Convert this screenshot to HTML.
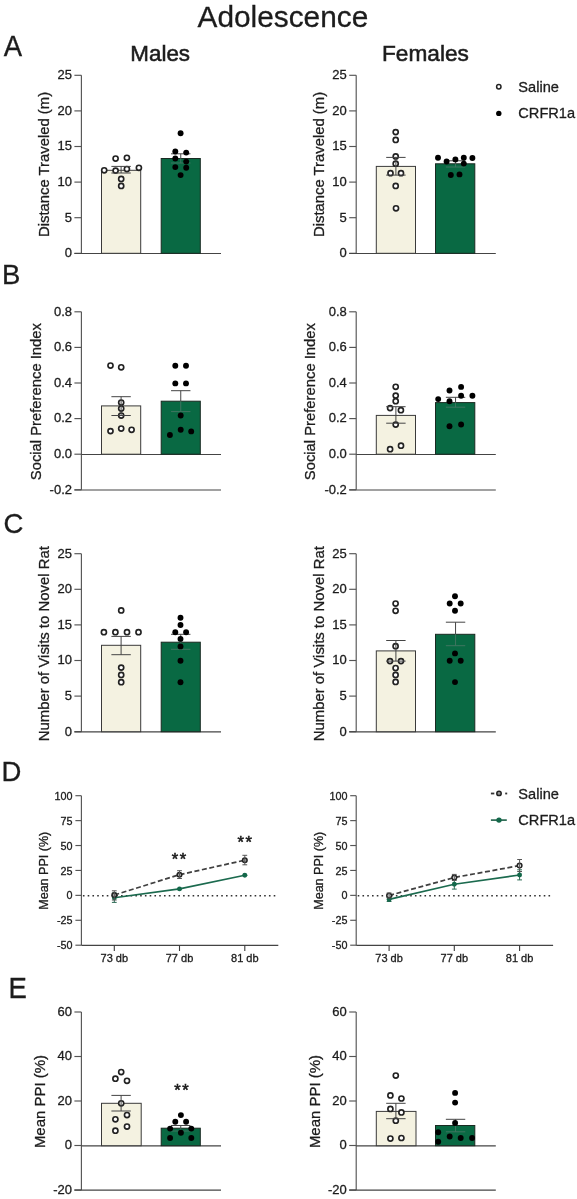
<!DOCTYPE html>
<html><head><meta charset="utf-8"><style>
html,body{margin:0;padding:0;background:#fff;width:577px;height:1199px;overflow:hidden}
svg{display:block;font-family:"Liberation Sans", sans-serif;filter:blur(0.4px)}
</style></head><body>
<svg width="577" height="1199" viewBox="0 0 577 1199">
<rect width="577" height="1199" fill="#fff"/>
<text x="197.60" y="27.30" font-size="29.8" text-anchor="start" fill="#1c1c1c" stroke="#1c1c1c" stroke-width="0.3" >Adolescence</text>
<text x="130.30" y="61.40" font-size="22.4" text-anchor="start" fill="#1c1c1c" stroke="#1c1c1c" stroke-width="0.55" >Males</text>
<text x="382.00" y="61.30" font-size="22.4" text-anchor="start" fill="#1c1c1c" stroke="#1c1c1c" stroke-width="0.55" textLength="86.9" lengthAdjust="spacingAndGlyphs">Females</text>
<g transform="translate(3.8,56.2) scale(1,1.08)">
<text x="0.00" y="0.00" font-size="27.5" text-anchor="start" fill="#1c1c1c" stroke="#1c1c1c" stroke-width="0.3" >A</text>
</g>
<g transform="translate(2.0,283.5) scale(1,1.0)">
<text x="0.00" y="0.00" font-size="27.5" text-anchor="start" fill="#1c1c1c" stroke="#1c1c1c" stroke-width="0.3" >B</text>
</g>
<g transform="translate(3.4,532.7) scale(1,1.0)">
<text x="0.00" y="0.00" font-size="27.5" text-anchor="start" fill="#1c1c1c" stroke="#1c1c1c" stroke-width="0.3" >C</text>
</g>
<g transform="translate(1.5,780.5) scale(1,1.0)">
<text x="0.00" y="0.00" font-size="27.5" text-anchor="start" fill="#1c1c1c" stroke="#1c1c1c" stroke-width="0.3" >D</text>
</g>
<g transform="translate(8.6,998.3) scale(1,1.06)">
<text x="0.00" y="0.00" font-size="27.5" text-anchor="start" fill="#1c1c1c" stroke="#1c1c1c" stroke-width="0.3" >E</text>
</g>
<circle cx="498.80" cy="86.80" r="2.2" fill="#fff" stroke="#222" stroke-width="1.5"/>
<circle cx="498.80" cy="113.40" r="2.7" fill="#000"/>
<text x="518.30" y="91.80" font-size="14.6" text-anchor="start" fill="#1c1c1c" stroke="#1c1c1c" stroke-width="0.3" >Saline</text>
<text x="518.30" y="117.90" font-size="14.6" text-anchor="start" fill="#1c1c1c" stroke="#1c1c1c" stroke-width="0.3" >CRFR1a</text>
<line x1="81.40" y1="75.30" x2="81.40" y2="253.30" stroke="#555" stroke-width="1.15" />
<line x1="74.40" y1="75.30" x2="81.40" y2="75.30" stroke="#555" stroke-width="1.15" />
<text x="72.00" y="79.15" font-size="13" text-anchor="end" fill="#1c1c1c" stroke="#1c1c1c" stroke-width="0.3" >25</text>
<line x1="74.40" y1="110.90" x2="81.40" y2="110.90" stroke="#555" stroke-width="1.15" />
<text x="72.00" y="114.75" font-size="13" text-anchor="end" fill="#1c1c1c" stroke="#1c1c1c" stroke-width="0.3" >20</text>
<line x1="74.40" y1="146.50" x2="81.40" y2="146.50" stroke="#555" stroke-width="1.15" />
<text x="72.00" y="150.35" font-size="13" text-anchor="end" fill="#1c1c1c" stroke="#1c1c1c" stroke-width="0.3" >15</text>
<line x1="74.40" y1="182.10" x2="81.40" y2="182.10" stroke="#555" stroke-width="1.15" />
<text x="72.00" y="185.95" font-size="13" text-anchor="end" fill="#1c1c1c" stroke="#1c1c1c" stroke-width="0.3" >10</text>
<line x1="74.40" y1="217.70" x2="81.40" y2="217.70" stroke="#555" stroke-width="1.15" />
<text x="72.00" y="221.55" font-size="13" text-anchor="end" fill="#1c1c1c" stroke="#1c1c1c" stroke-width="0.3" >5</text>
<line x1="74.40" y1="253.30" x2="81.40" y2="253.30" stroke="#555" stroke-width="1.15" />
<text x="72.00" y="257.15" font-size="13" text-anchor="end" fill="#1c1c1c" stroke="#1c1c1c" stroke-width="0.3" >0</text>
<line x1="74.40" y1="253.50" x2="221.00" y2="253.50" stroke="#444" stroke-width="1.2" />
<text transform="translate(48.70,237.00) rotate(-90)" font-size="15" text-anchor="start" fill="#1c1c1c" stroke="#1c1c1c" stroke-width="0.3" textLength="145.1" lengthAdjust="spacingAndGlyphs">Distance Traveled (m)</text>
<rect x="101.50" y="170.30" width="39.20" height="83.00" fill="#f4f2e1" stroke="#3a3a3a" stroke-width="1.0"/>
<rect x="161.20" y="158.50" width="39.10" height="94.80" fill="#096943" stroke="#1a2a22" stroke-width="1.0"/>
<line x1="180.75" y1="153.80" x2="180.75" y2="158.50" stroke="#444" stroke-width="1.0" />
<line x1="171.05" y1="153.80" x2="190.45" y2="153.80" stroke="#444" stroke-width="1.0" />
<line x1="180.75" y1="158.50" x2="180.75" y2="163.00" stroke="#3f7560" stroke-width="1.0" />
<line x1="171.05" y1="163.00" x2="190.45" y2="163.00" stroke="#3f7560" stroke-width="1.0" />
<circle cx="115.60" cy="158.50" r="2.55" fill="#fff" stroke="#222" stroke-width="1.65"/>
<circle cx="126.90" cy="157.80" r="2.55" fill="#fff" stroke="#222" stroke-width="1.65"/>
<circle cx="104.20" cy="170.30" r="2.55" fill="#fff" stroke="#222" stroke-width="1.65"/>
<circle cx="115.60" cy="170.60" r="2.55" fill="#fff" stroke="#222" stroke-width="1.65"/>
<circle cx="126.90" cy="169.00" r="2.55" fill="#fff" stroke="#222" stroke-width="1.65"/>
<circle cx="138.90" cy="167.80" r="2.55" fill="#fff" stroke="#222" stroke-width="1.65"/>
<circle cx="121.20" cy="178.90" r="2.55" fill="#fff" stroke="#222" stroke-width="1.65"/>
<circle cx="121.20" cy="185.90" r="2.55" fill="#fff" stroke="#222" stroke-width="1.65"/>
<line x1="121.10" y1="166.40" x2="121.10" y2="173.00" stroke="#444" stroke-width="1.0" />
<line x1="111.40" y1="166.40" x2="130.80" y2="166.40" stroke="#444" stroke-width="1.0" />
<line x1="111.40" y1="173.00" x2="130.80" y2="173.00" stroke="#444" stroke-width="1.0" />
<circle cx="180.60" cy="133.30" r="2.95" fill="#000"/>
<circle cx="175.30" cy="151.50" r="2.95" fill="#000"/>
<circle cx="186.20" cy="152.60" r="2.95" fill="#000"/>
<circle cx="175.30" cy="158.50" r="2.95" fill="#000"/>
<circle cx="186.20" cy="161.60" r="2.95" fill="#000"/>
<circle cx="175.30" cy="167.10" r="2.95" fill="#000"/>
<circle cx="186.20" cy="167.70" r="2.95" fill="#000"/>
<circle cx="180.60" cy="175.10" r="2.95" fill="#000"/>
<line x1="356.20" y1="75.30" x2="356.20" y2="253.30" stroke="#555" stroke-width="1.15" />
<line x1="349.20" y1="75.30" x2="356.20" y2="75.30" stroke="#555" stroke-width="1.15" />
<text x="346.80" y="79.15" font-size="13" text-anchor="end" fill="#1c1c1c" stroke="#1c1c1c" stroke-width="0.3" >25</text>
<line x1="349.20" y1="110.90" x2="356.20" y2="110.90" stroke="#555" stroke-width="1.15" />
<text x="346.80" y="114.75" font-size="13" text-anchor="end" fill="#1c1c1c" stroke="#1c1c1c" stroke-width="0.3" >20</text>
<line x1="349.20" y1="146.50" x2="356.20" y2="146.50" stroke="#555" stroke-width="1.15" />
<text x="346.80" y="150.35" font-size="13" text-anchor="end" fill="#1c1c1c" stroke="#1c1c1c" stroke-width="0.3" >15</text>
<line x1="349.20" y1="182.10" x2="356.20" y2="182.10" stroke="#555" stroke-width="1.15" />
<text x="346.80" y="185.95" font-size="13" text-anchor="end" fill="#1c1c1c" stroke="#1c1c1c" stroke-width="0.3" >10</text>
<line x1="349.20" y1="217.70" x2="356.20" y2="217.70" stroke="#555" stroke-width="1.15" />
<text x="346.80" y="221.55" font-size="13" text-anchor="end" fill="#1c1c1c" stroke="#1c1c1c" stroke-width="0.3" >5</text>
<line x1="349.20" y1="253.30" x2="356.20" y2="253.30" stroke="#555" stroke-width="1.15" />
<text x="346.80" y="257.15" font-size="13" text-anchor="end" fill="#1c1c1c" stroke="#1c1c1c" stroke-width="0.3" >0</text>
<line x1="349.20" y1="253.50" x2="495.80" y2="253.50" stroke="#444" stroke-width="1.2" />
<text transform="translate(323.50,237.00) rotate(-90)" font-size="15" text-anchor="start" fill="#1c1c1c" stroke="#1c1c1c" stroke-width="0.3" textLength="145.1" lengthAdjust="spacingAndGlyphs">Distance Traveled (m)</text>
<rect x="376.30" y="166.40" width="39.20" height="86.90" fill="#f4f2e1" stroke="#3a3a3a" stroke-width="1.0"/>
<rect x="435.50" y="163.80" width="39.30" height="89.50" fill="#096943" stroke="#1a2a22" stroke-width="1.0"/>
<line x1="455.55" y1="160.80" x2="455.55" y2="163.80" stroke="#444" stroke-width="1.0" />
<line x1="445.85" y1="160.80" x2="465.25" y2="160.80" stroke="#444" stroke-width="1.0" />
<line x1="455.55" y1="163.80" x2="455.55" y2="167.00" stroke="#3f7560" stroke-width="1.0" />
<line x1="445.85" y1="167.00" x2="465.25" y2="167.00" stroke="#3f7560" stroke-width="1.0" />
<circle cx="395.70" cy="132.10" r="2.55" fill="#fff" stroke="#222" stroke-width="1.65"/>
<circle cx="395.70" cy="139.90" r="2.55" fill="#fff" stroke="#222" stroke-width="1.65"/>
<circle cx="395.70" cy="156.40" r="2.55" fill="#fff" stroke="#222" stroke-width="1.65"/>
<circle cx="395.70" cy="163.70" r="2.55" fill="#fff" stroke="#222" stroke-width="1.65"/>
<circle cx="390.50" cy="173.20" r="2.55" fill="#fff" stroke="#222" stroke-width="1.65"/>
<circle cx="401.00" cy="173.20" r="2.55" fill="#fff" stroke="#222" stroke-width="1.65"/>
<circle cx="395.70" cy="185.90" r="2.55" fill="#fff" stroke="#222" stroke-width="1.65"/>
<circle cx="396.00" cy="208.30" r="2.55" fill="#fff" stroke="#222" stroke-width="1.65"/>
<line x1="395.90" y1="157.40" x2="395.90" y2="175.10" stroke="#444" stroke-width="1.0" />
<line x1="386.20" y1="157.40" x2="405.60" y2="157.40" stroke="#444" stroke-width="1.0" />
<line x1="386.20" y1="175.10" x2="405.60" y2="175.10" stroke="#444" stroke-width="1.0" />
<circle cx="438.00" cy="157.80" r="2.95" fill="#000"/>
<circle cx="446.60" cy="161.50" r="2.95" fill="#000"/>
<circle cx="455.40" cy="159.40" r="2.95" fill="#000"/>
<circle cx="463.80" cy="157.80" r="2.95" fill="#000"/>
<circle cx="472.40" cy="158.00" r="2.95" fill="#000"/>
<circle cx="463.80" cy="163.60" r="2.95" fill="#000"/>
<circle cx="450.80" cy="175.00" r="2.95" fill="#000"/>
<circle cx="459.50" cy="174.40" r="2.95" fill="#000"/>
<line x1="81.40" y1="311.80" x2="81.40" y2="489.80" stroke="#555" stroke-width="1.15" />
<line x1="74.40" y1="311.80" x2="81.40" y2="311.80" stroke="#555" stroke-width="1.15" />
<text x="72.00" y="315.65" font-size="13" text-anchor="end" fill="#1c1c1c" stroke="#1c1c1c" stroke-width="0.3" >0.8</text>
<line x1="74.40" y1="347.40" x2="81.40" y2="347.40" stroke="#555" stroke-width="1.15" />
<text x="72.00" y="351.25" font-size="13" text-anchor="end" fill="#1c1c1c" stroke="#1c1c1c" stroke-width="0.3" >0.6</text>
<line x1="74.40" y1="383.00" x2="81.40" y2="383.00" stroke="#555" stroke-width="1.15" />
<text x="72.00" y="386.85" font-size="13" text-anchor="end" fill="#1c1c1c" stroke="#1c1c1c" stroke-width="0.3" >0.4</text>
<line x1="74.40" y1="418.60" x2="81.40" y2="418.60" stroke="#555" stroke-width="1.15" />
<text x="72.00" y="422.45" font-size="13" text-anchor="end" fill="#1c1c1c" stroke="#1c1c1c" stroke-width="0.3" >0.2</text>
<line x1="74.40" y1="454.20" x2="81.40" y2="454.20" stroke="#555" stroke-width="1.15" />
<text x="72.00" y="458.05" font-size="13" text-anchor="end" fill="#1c1c1c" stroke="#1c1c1c" stroke-width="0.3" >0.0</text>
<line x1="74.40" y1="489.80" x2="81.40" y2="489.80" stroke="#555" stroke-width="1.15" />
<text x="72.00" y="493.65" font-size="13" text-anchor="end" fill="#1c1c1c" stroke="#1c1c1c" stroke-width="0.3" >-0.2</text>
<line x1="74.40" y1="490.00" x2="221.00" y2="490.00" stroke="#444" stroke-width="1.2" />
<line x1="81.40" y1="454.50" x2="221.00" y2="454.50" stroke="#444" stroke-width="1.2" />
<text transform="translate(40.50,480.20) rotate(-90)" font-size="15" text-anchor="start" fill="#1c1c1c" stroke="#1c1c1c" stroke-width="0.3" textLength="157.15" lengthAdjust="spacingAndGlyphs">Social Preference Index</text>
<rect x="101.50" y="405.90" width="39.20" height="48.30" fill="#f4f2e1" stroke="#3a3a3a" stroke-width="1.0"/>
<rect x="161.20" y="401.20" width="39.10" height="53.00" fill="#096943" stroke="#1a2a22" stroke-width="1.0"/>
<line x1="180.75" y1="390.70" x2="180.75" y2="401.20" stroke="#444" stroke-width="1.0" />
<line x1="171.05" y1="390.70" x2="190.45" y2="390.70" stroke="#444" stroke-width="1.0" />
<line x1="180.75" y1="401.20" x2="180.75" y2="411.60" stroke="#3f7560" stroke-width="1.0" />
<line x1="171.05" y1="411.60" x2="190.45" y2="411.60" stroke="#3f7560" stroke-width="1.0" />
<circle cx="110.50" cy="365.50" r="2.55" fill="#fff" stroke="#222" stroke-width="1.65"/>
<circle cx="121.20" cy="367.30" r="2.55" fill="#fff" stroke="#222" stroke-width="1.65"/>
<circle cx="121.20" cy="402.50" r="2.55" fill="#fff" stroke="#222" stroke-width="1.65"/>
<circle cx="121.20" cy="408.50" r="2.55" fill="#fff" stroke="#222" stroke-width="1.65"/>
<circle cx="121.20" cy="415.50" r="2.55" fill="#fff" stroke="#222" stroke-width="1.65"/>
<circle cx="110.50" cy="431.10" r="2.55" fill="#fff" stroke="#222" stroke-width="1.65"/>
<circle cx="121.20" cy="428.50" r="2.55" fill="#fff" stroke="#222" stroke-width="1.65"/>
<circle cx="131.60" cy="429.80" r="2.55" fill="#fff" stroke="#222" stroke-width="1.65"/>
<line x1="121.10" y1="396.70" x2="121.10" y2="415.50" stroke="#444" stroke-width="1.0" />
<line x1="111.40" y1="396.70" x2="130.80" y2="396.70" stroke="#444" stroke-width="1.0" />
<line x1="111.40" y1="415.50" x2="130.80" y2="415.50" stroke="#444" stroke-width="1.0" />
<circle cx="175.30" cy="365.70" r="2.95" fill="#000"/>
<circle cx="186.00" cy="365.70" r="2.95" fill="#000"/>
<circle cx="175.30" cy="383.40" r="2.95" fill="#000"/>
<circle cx="186.00" cy="383.40" r="2.95" fill="#000"/>
<circle cx="180.70" cy="415.50" r="2.95" fill="#000"/>
<circle cx="180.70" cy="429.80" r="2.95" fill="#000"/>
<circle cx="169.90" cy="435.00" r="2.95" fill="#000"/>
<circle cx="191.20" cy="431.40" r="2.95" fill="#000"/>
<line x1="356.20" y1="311.80" x2="356.20" y2="489.80" stroke="#555" stroke-width="1.15" />
<line x1="349.20" y1="311.80" x2="356.20" y2="311.80" stroke="#555" stroke-width="1.15" />
<text x="346.80" y="315.65" font-size="13" text-anchor="end" fill="#1c1c1c" stroke="#1c1c1c" stroke-width="0.3" >0.8</text>
<line x1="349.20" y1="347.40" x2="356.20" y2="347.40" stroke="#555" stroke-width="1.15" />
<text x="346.80" y="351.25" font-size="13" text-anchor="end" fill="#1c1c1c" stroke="#1c1c1c" stroke-width="0.3" >0.6</text>
<line x1="349.20" y1="383.00" x2="356.20" y2="383.00" stroke="#555" stroke-width="1.15" />
<text x="346.80" y="386.85" font-size="13" text-anchor="end" fill="#1c1c1c" stroke="#1c1c1c" stroke-width="0.3" >0.4</text>
<line x1="349.20" y1="418.60" x2="356.20" y2="418.60" stroke="#555" stroke-width="1.15" />
<text x="346.80" y="422.45" font-size="13" text-anchor="end" fill="#1c1c1c" stroke="#1c1c1c" stroke-width="0.3" >0.2</text>
<line x1="349.20" y1="454.20" x2="356.20" y2="454.20" stroke="#555" stroke-width="1.15" />
<text x="346.80" y="458.05" font-size="13" text-anchor="end" fill="#1c1c1c" stroke="#1c1c1c" stroke-width="0.3" >0.0</text>
<line x1="349.20" y1="489.80" x2="356.20" y2="489.80" stroke="#555" stroke-width="1.15" />
<text x="346.80" y="493.65" font-size="13" text-anchor="end" fill="#1c1c1c" stroke="#1c1c1c" stroke-width="0.3" >-0.2</text>
<line x1="349.20" y1="490.00" x2="495.80" y2="490.00" stroke="#444" stroke-width="1.2" />
<line x1="356.20" y1="454.50" x2="495.80" y2="454.50" stroke="#444" stroke-width="1.2" />
<text transform="translate(314.50,480.20) rotate(-90)" font-size="15" text-anchor="start" fill="#1c1c1c" stroke="#1c1c1c" stroke-width="0.3" textLength="157.15" lengthAdjust="spacingAndGlyphs">Social Preference Index</text>
<rect x="376.30" y="415.40" width="39.20" height="38.80" fill="#f4f2e1" stroke="#3a3a3a" stroke-width="1.0"/>
<rect x="435.50" y="402.60" width="39.30" height="51.60" fill="#096943" stroke="#1a2a22" stroke-width="1.0"/>
<line x1="455.55" y1="397.30" x2="455.55" y2="402.60" stroke="#444" stroke-width="1.0" />
<line x1="445.85" y1="397.30" x2="465.25" y2="397.30" stroke="#444" stroke-width="1.0" />
<line x1="455.55" y1="402.60" x2="455.55" y2="407.20" stroke="#3f7560" stroke-width="1.0" />
<line x1="445.85" y1="407.20" x2="465.25" y2="407.20" stroke="#3f7560" stroke-width="1.0" />
<circle cx="395.70" cy="386.80" r="2.55" fill="#fff" stroke="#222" stroke-width="1.65"/>
<circle cx="395.70" cy="395.60" r="2.55" fill="#fff" stroke="#222" stroke-width="1.65"/>
<circle cx="395.70" cy="401.20" r="2.55" fill="#fff" stroke="#222" stroke-width="1.65"/>
<circle cx="390.10" cy="408.10" r="2.55" fill="#fff" stroke="#222" stroke-width="1.65"/>
<circle cx="400.90" cy="410.20" r="2.55" fill="#fff" stroke="#222" stroke-width="1.65"/>
<circle cx="395.70" cy="424.60" r="2.55" fill="#fff" stroke="#222" stroke-width="1.65"/>
<circle cx="390.10" cy="449.20" r="2.55" fill="#fff" stroke="#222" stroke-width="1.65"/>
<circle cx="401.00" cy="445.70" r="2.55" fill="#fff" stroke="#222" stroke-width="1.65"/>
<line x1="395.90" y1="406.70" x2="395.90" y2="423.20" stroke="#444" stroke-width="1.0" />
<line x1="386.20" y1="406.70" x2="405.60" y2="406.70" stroke="#444" stroke-width="1.0" />
<line x1="386.20" y1="423.20" x2="405.60" y2="423.20" stroke="#444" stroke-width="1.0" />
<circle cx="438.20" cy="399.10" r="2.95" fill="#000"/>
<circle cx="449.50" cy="390.50" r="2.95" fill="#000"/>
<circle cx="449.50" cy="401.20" r="2.95" fill="#000"/>
<circle cx="461.10" cy="386.90" r="2.95" fill="#000"/>
<circle cx="461.10" cy="395.70" r="2.95" fill="#000"/>
<circle cx="472.40" cy="395.70" r="2.95" fill="#000"/>
<circle cx="449.50" cy="426.20" r="2.95" fill="#000"/>
<circle cx="461.10" cy="424.50" r="2.95" fill="#000"/>
<line x1="81.40" y1="553.70" x2="81.40" y2="731.70" stroke="#555" stroke-width="1.15" />
<line x1="74.40" y1="553.70" x2="81.40" y2="553.70" stroke="#555" stroke-width="1.15" />
<text x="72.00" y="557.55" font-size="13" text-anchor="end" fill="#1c1c1c" stroke="#1c1c1c" stroke-width="0.3" >25</text>
<line x1="74.40" y1="589.30" x2="81.40" y2="589.30" stroke="#555" stroke-width="1.15" />
<text x="72.00" y="593.15" font-size="13" text-anchor="end" fill="#1c1c1c" stroke="#1c1c1c" stroke-width="0.3" >20</text>
<line x1="74.40" y1="624.90" x2="81.40" y2="624.90" stroke="#555" stroke-width="1.15" />
<text x="72.00" y="628.75" font-size="13" text-anchor="end" fill="#1c1c1c" stroke="#1c1c1c" stroke-width="0.3" >15</text>
<line x1="74.40" y1="660.50" x2="81.40" y2="660.50" stroke="#555" stroke-width="1.15" />
<text x="72.00" y="664.35" font-size="13" text-anchor="end" fill="#1c1c1c" stroke="#1c1c1c" stroke-width="0.3" >10</text>
<line x1="74.40" y1="696.10" x2="81.40" y2="696.10" stroke="#555" stroke-width="1.15" />
<text x="72.00" y="699.95" font-size="13" text-anchor="end" fill="#1c1c1c" stroke="#1c1c1c" stroke-width="0.3" >5</text>
<line x1="74.40" y1="731.70" x2="81.40" y2="731.70" stroke="#555" stroke-width="1.15" />
<text x="72.00" y="735.55" font-size="13" text-anchor="end" fill="#1c1c1c" stroke="#1c1c1c" stroke-width="0.3" >0</text>
<line x1="74.40" y1="731.90" x2="221.00" y2="731.90" stroke="#444" stroke-width="1.2" />
<text transform="translate(48.70,741.30) rotate(-90)" font-size="15" text-anchor="start" fill="#1c1c1c" stroke="#1c1c1c" stroke-width="0.3" textLength="195.16" lengthAdjust="spacingAndGlyphs">Number of Visits to Novel Rat</text>
<rect x="101.50" y="645.30" width="39.20" height="86.40" fill="#f4f2e1" stroke="#3a3a3a" stroke-width="1.0"/>
<rect x="161.20" y="642.20" width="39.10" height="89.50" fill="#096943" stroke="#1a2a22" stroke-width="1.0"/>
<line x1="180.75" y1="634.30" x2="180.75" y2="642.20" stroke="#444" stroke-width="1.0" />
<line x1="171.05" y1="634.30" x2="190.45" y2="634.30" stroke="#444" stroke-width="1.0" />
<line x1="180.75" y1="642.20" x2="180.75" y2="649.30" stroke="#3f7560" stroke-width="1.0" />
<line x1="171.05" y1="649.30" x2="190.45" y2="649.30" stroke="#3f7560" stroke-width="1.0" />
<circle cx="121.20" cy="610.40" r="2.55" fill="#fff" stroke="#222" stroke-width="1.65"/>
<circle cx="103.90" cy="632.20" r="2.55" fill="#fff" stroke="#222" stroke-width="1.65"/>
<circle cx="115.40" cy="632.20" r="2.55" fill="#fff" stroke="#222" stroke-width="1.65"/>
<circle cx="127.00" cy="632.20" r="2.55" fill="#fff" stroke="#222" stroke-width="1.65"/>
<circle cx="138.50" cy="632.20" r="2.55" fill="#fff" stroke="#222" stroke-width="1.65"/>
<circle cx="121.20" cy="667.60" r="2.55" fill="#fff" stroke="#222" stroke-width="1.65"/>
<circle cx="121.20" cy="674.90" r="2.55" fill="#fff" stroke="#222" stroke-width="1.65"/>
<circle cx="121.20" cy="682.20" r="2.55" fill="#fff" stroke="#222" stroke-width="1.65"/>
<line x1="121.10" y1="636.40" x2="121.10" y2="654.70" stroke="#444" stroke-width="1.0" />
<line x1="111.40" y1="636.40" x2="130.80" y2="636.40" stroke="#444" stroke-width="1.0" />
<line x1="111.40" y1="654.70" x2="130.80" y2="654.70" stroke="#444" stroke-width="1.0" />
<circle cx="180.50" cy="617.70" r="2.95" fill="#000"/>
<circle cx="180.50" cy="625.00" r="2.95" fill="#000"/>
<circle cx="175.30" cy="632.20" r="2.95" fill="#000"/>
<circle cx="186.10" cy="632.20" r="2.95" fill="#000"/>
<circle cx="180.50" cy="638.90" r="2.95" fill="#000"/>
<circle cx="180.50" cy="646.40" r="2.95" fill="#000"/>
<circle cx="180.50" cy="660.70" r="2.95" fill="#000"/>
<circle cx="180.50" cy="682.20" r="2.95" fill="#000"/>
<line x1="356.20" y1="553.70" x2="356.20" y2="731.70" stroke="#555" stroke-width="1.15" />
<line x1="349.20" y1="553.70" x2="356.20" y2="553.70" stroke="#555" stroke-width="1.15" />
<text x="346.80" y="557.55" font-size="13" text-anchor="end" fill="#1c1c1c" stroke="#1c1c1c" stroke-width="0.3" >25</text>
<line x1="349.20" y1="589.30" x2="356.20" y2="589.30" stroke="#555" stroke-width="1.15" />
<text x="346.80" y="593.15" font-size="13" text-anchor="end" fill="#1c1c1c" stroke="#1c1c1c" stroke-width="0.3" >20</text>
<line x1="349.20" y1="624.90" x2="356.20" y2="624.90" stroke="#555" stroke-width="1.15" />
<text x="346.80" y="628.75" font-size="13" text-anchor="end" fill="#1c1c1c" stroke="#1c1c1c" stroke-width="0.3" >15</text>
<line x1="349.20" y1="660.50" x2="356.20" y2="660.50" stroke="#555" stroke-width="1.15" />
<text x="346.80" y="664.35" font-size="13" text-anchor="end" fill="#1c1c1c" stroke="#1c1c1c" stroke-width="0.3" >10</text>
<line x1="349.20" y1="696.10" x2="356.20" y2="696.10" stroke="#555" stroke-width="1.15" />
<text x="346.80" y="699.95" font-size="13" text-anchor="end" fill="#1c1c1c" stroke="#1c1c1c" stroke-width="0.3" >5</text>
<line x1="349.20" y1="731.70" x2="356.20" y2="731.70" stroke="#555" stroke-width="1.15" />
<text x="346.80" y="735.55" font-size="13" text-anchor="end" fill="#1c1c1c" stroke="#1c1c1c" stroke-width="0.3" >0</text>
<line x1="349.20" y1="731.90" x2="495.80" y2="731.90" stroke="#444" stroke-width="1.2" />
<text transform="translate(323.50,741.30) rotate(-90)" font-size="15" text-anchor="start" fill="#1c1c1c" stroke="#1c1c1c" stroke-width="0.3" textLength="195.16" lengthAdjust="spacingAndGlyphs">Number of Visits to Novel Rat</text>
<rect x="376.30" y="650.90" width="39.20" height="80.80" fill="#f4f2e1" stroke="#3a3a3a" stroke-width="1.0"/>
<rect x="435.50" y="634.30" width="39.30" height="97.40" fill="#096943" stroke="#1a2a22" stroke-width="1.0"/>
<line x1="455.55" y1="622.20" x2="455.55" y2="634.30" stroke="#444" stroke-width="1.0" />
<line x1="445.85" y1="622.20" x2="465.25" y2="622.20" stroke="#444" stroke-width="1.0" />
<line x1="455.55" y1="634.30" x2="455.55" y2="645.70" stroke="#3f7560" stroke-width="1.0" />
<line x1="445.85" y1="645.70" x2="465.25" y2="645.70" stroke="#3f7560" stroke-width="1.0" />
<circle cx="395.60" cy="603.50" r="2.55" fill="#fff" stroke="#222" stroke-width="1.65"/>
<circle cx="395.60" cy="610.80" r="2.55" fill="#fff" stroke="#222" stroke-width="1.65"/>
<circle cx="395.60" cy="646.20" r="2.55" fill="#fff" stroke="#222" stroke-width="1.65"/>
<circle cx="390.00" cy="661.10" r="2.55" fill="#fff" stroke="#222" stroke-width="1.65"/>
<circle cx="401.00" cy="661.10" r="2.55" fill="#fff" stroke="#222" stroke-width="1.65"/>
<circle cx="395.60" cy="668.00" r="2.55" fill="#fff" stroke="#222" stroke-width="1.65"/>
<circle cx="395.60" cy="674.90" r="2.55" fill="#fff" stroke="#222" stroke-width="1.65"/>
<circle cx="395.60" cy="681.90" r="2.55" fill="#fff" stroke="#222" stroke-width="1.65"/>
<line x1="395.90" y1="640.50" x2="395.90" y2="661.10" stroke="#444" stroke-width="1.0" />
<line x1="386.20" y1="640.50" x2="405.60" y2="640.50" stroke="#444" stroke-width="1.0" />
<line x1="386.20" y1="661.10" x2="405.60" y2="661.10" stroke="#444" stroke-width="1.0" />
<circle cx="455.00" cy="596.20" r="2.95" fill="#000"/>
<circle cx="449.70" cy="603.50" r="2.95" fill="#000"/>
<circle cx="460.70" cy="603.50" r="2.95" fill="#000"/>
<circle cx="455.00" cy="610.80" r="2.95" fill="#000"/>
<circle cx="455.00" cy="653.40" r="2.95" fill="#000"/>
<circle cx="449.70" cy="660.70" r="2.95" fill="#000"/>
<circle cx="460.70" cy="660.70" r="2.95" fill="#000"/>
<circle cx="455.00" cy="682.10" r="2.95" fill="#000"/>
<line x1="81.40" y1="795.70" x2="81.40" y2="945.20" stroke="#555" stroke-width="1.15" />
<line x1="75.40" y1="795.70" x2="81.40" y2="795.70" stroke="#555" stroke-width="1.15" />
<text x="72.60" y="799.80" font-size="10.8" text-anchor="end" fill="#1c1c1c" stroke="#1c1c1c" stroke-width="0.3" >100</text>
<line x1="75.40" y1="820.62" x2="81.40" y2="820.62" stroke="#555" stroke-width="1.15" />
<text x="72.60" y="824.72" font-size="10.8" text-anchor="end" fill="#1c1c1c" stroke="#1c1c1c" stroke-width="0.3" >75</text>
<line x1="75.40" y1="845.53" x2="81.40" y2="845.53" stroke="#555" stroke-width="1.15" />
<text x="72.60" y="849.63" font-size="10.8" text-anchor="end" fill="#1c1c1c" stroke="#1c1c1c" stroke-width="0.3" >50</text>
<line x1="75.40" y1="870.45" x2="81.40" y2="870.45" stroke="#555" stroke-width="1.15" />
<text x="72.60" y="874.55" font-size="10.8" text-anchor="end" fill="#1c1c1c" stroke="#1c1c1c" stroke-width="0.3" >25</text>
<line x1="75.40" y1="895.37" x2="81.40" y2="895.37" stroke="#555" stroke-width="1.15" />
<text x="72.60" y="899.47" font-size="10.8" text-anchor="end" fill="#1c1c1c" stroke="#1c1c1c" stroke-width="0.3" >0</text>
<line x1="75.40" y1="920.28" x2="81.40" y2="920.28" stroke="#555" stroke-width="1.15" />
<text x="72.60" y="924.38" font-size="10.8" text-anchor="end" fill="#1c1c1c" stroke="#1c1c1c" stroke-width="0.3" >-25</text>
<line x1="75.40" y1="945.20" x2="81.40" y2="945.20" stroke="#555" stroke-width="1.15" />
<text x="72.60" y="949.30" font-size="10.8" text-anchor="end" fill="#1c1c1c" stroke="#1c1c1c" stroke-width="0.3" >-50</text>
<line x1="81.40" y1="945.30" x2="278.30" y2="945.30" stroke="#444" stroke-width="1.2" />
<line x1="114.30" y1="945.20" x2="114.30" y2="951.00" stroke="#3a3a3a" stroke-width="1.1" />
<text x="114.30" y="962.20" font-size="11" text-anchor="middle" fill="#1c1c1c" stroke="#1c1c1c" stroke-width="0.3" >73 db</text>
<line x1="179.50" y1="945.20" x2="179.50" y2="951.00" stroke="#3a3a3a" stroke-width="1.1" />
<text x="179.50" y="962.20" font-size="11" text-anchor="middle" fill="#1c1c1c" stroke="#1c1c1c" stroke-width="0.3" >77 db</text>
<line x1="244.80" y1="945.20" x2="244.80" y2="951.00" stroke="#3a3a3a" stroke-width="1.1" />
<text x="244.80" y="962.20" font-size="11" text-anchor="middle" fill="#1c1c1c" stroke="#1c1c1c" stroke-width="0.3" >81 db</text>
<line x1="82.90" y1="895.70" x2="275.50" y2="895.70" stroke="#333" stroke-width="1.6" stroke-dasharray="1.6 3.17"/>
<text transform="translate(48.30,909.80) rotate(-90)" font-size="12.4" text-anchor="start" fill="#1c1c1c" stroke="#1c1c1c" stroke-width="0.3" textLength="78.1" lengthAdjust="spacingAndGlyphs">Mean PPI (%)</text>
<polyline points="114.30,897.80 179.50,888.90 244.80,875.20" fill="none" stroke="#1b6a4e" stroke-width="1.65"/>
<line x1="114.30" y1="893.00" x2="114.30" y2="902.40" stroke="#2d6b55" stroke-width="1.0" />
<line x1="111.90" y1="893.00" x2="116.70" y2="893.00" stroke="#2d6b55" stroke-width="1.0" />
<line x1="111.90" y1="902.40" x2="116.70" y2="902.40" stroke="#2d6b55" stroke-width="1.0" />
<line x1="179.50" y1="888.90" x2="179.50" y2="888.90" stroke="#2d6b55" stroke-width="1.0" />
<line x1="177.10" y1="888.90" x2="181.90" y2="888.90" stroke="#2d6b55" stroke-width="1.0" />
<line x1="177.10" y1="888.90" x2="181.90" y2="888.90" stroke="#2d6b55" stroke-width="1.0" />
<line x1="244.80" y1="875.20" x2="244.80" y2="875.20" stroke="#2d6b55" stroke-width="1.0" />
<line x1="242.40" y1="875.20" x2="247.20" y2="875.20" stroke="#2d6b55" stroke-width="1.0" />
<line x1="242.40" y1="875.20" x2="247.20" y2="875.20" stroke="#2d6b55" stroke-width="1.0" />
<circle cx="114.30" cy="897.80" r="2.45" fill="#13684a"/>
<circle cx="179.50" cy="888.90" r="2.45" fill="#13684a"/>
<circle cx="244.80" cy="875.20" r="2.45" fill="#13684a"/>
<polyline points="114.30,895.00 179.50,874.70 244.80,860.20" fill="none" stroke="#404040" stroke-width="1.75" stroke-dasharray="5 2.6"/>
<circle cx="114.30" cy="895.00" r="2.3" fill="#aaa" stroke="#222" stroke-width="1.5"/>
<circle cx="179.50" cy="874.70" r="2.3" fill="#aaa" stroke="#222" stroke-width="1.5"/>
<circle cx="244.80" cy="860.20" r="2.3" fill="#aaa" stroke="#222" stroke-width="1.5"/>
<line x1="114.30" y1="890.80" x2="114.30" y2="900.00" stroke="#555" stroke-width="1.0" />
<line x1="111.90" y1="890.80" x2="116.70" y2="890.80" stroke="#555" stroke-width="1.0" />
<line x1="111.90" y1="900.00" x2="116.70" y2="900.00" stroke="#555" stroke-width="1.0" />
<line x1="179.50" y1="870.70" x2="179.50" y2="878.50" stroke="#555" stroke-width="1.0" />
<line x1="177.10" y1="870.70" x2="181.90" y2="870.70" stroke="#555" stroke-width="1.0" />
<line x1="177.10" y1="878.50" x2="181.90" y2="878.50" stroke="#555" stroke-width="1.0" />
<line x1="244.80" y1="855.30" x2="244.80" y2="864.80" stroke="#555" stroke-width="1.0" />
<line x1="242.40" y1="855.30" x2="247.20" y2="855.30" stroke="#555" stroke-width="1.0" />
<line x1="242.40" y1="864.80" x2="247.20" y2="864.80" stroke="#555" stroke-width="1.0" />
<text x="179.80" y="865.20" font-size="16.5" text-anchor="middle" fill="#1c1c1c" stroke="#1c1c1c" stroke-width="0.6" letter-spacing="1.6">**</text>
<text x="245.50" y="847.70" font-size="16.5" text-anchor="middle" fill="#1c1c1c" stroke="#1c1c1c" stroke-width="0.6" letter-spacing="1.6">**</text>
<line x1="356.20" y1="795.70" x2="356.20" y2="945.20" stroke="#555" stroke-width="1.15" />
<line x1="350.20" y1="795.70" x2="356.20" y2="795.70" stroke="#555" stroke-width="1.15" />
<text x="347.40" y="799.80" font-size="10.8" text-anchor="end" fill="#1c1c1c" stroke="#1c1c1c" stroke-width="0.3" >100</text>
<line x1="350.20" y1="820.62" x2="356.20" y2="820.62" stroke="#555" stroke-width="1.15" />
<text x="347.40" y="824.72" font-size="10.8" text-anchor="end" fill="#1c1c1c" stroke="#1c1c1c" stroke-width="0.3" >75</text>
<line x1="350.20" y1="845.53" x2="356.20" y2="845.53" stroke="#555" stroke-width="1.15" />
<text x="347.40" y="849.63" font-size="10.8" text-anchor="end" fill="#1c1c1c" stroke="#1c1c1c" stroke-width="0.3" >50</text>
<line x1="350.20" y1="870.45" x2="356.20" y2="870.45" stroke="#555" stroke-width="1.15" />
<text x="347.40" y="874.55" font-size="10.8" text-anchor="end" fill="#1c1c1c" stroke="#1c1c1c" stroke-width="0.3" >25</text>
<line x1="350.20" y1="895.37" x2="356.20" y2="895.37" stroke="#555" stroke-width="1.15" />
<text x="347.40" y="899.47" font-size="10.8" text-anchor="end" fill="#1c1c1c" stroke="#1c1c1c" stroke-width="0.3" >0</text>
<line x1="350.20" y1="920.28" x2="356.20" y2="920.28" stroke="#555" stroke-width="1.15" />
<text x="347.40" y="924.38" font-size="10.8" text-anchor="end" fill="#1c1c1c" stroke="#1c1c1c" stroke-width="0.3" >-25</text>
<line x1="350.20" y1="945.20" x2="356.20" y2="945.20" stroke="#555" stroke-width="1.15" />
<text x="347.40" y="949.30" font-size="10.8" text-anchor="end" fill="#1c1c1c" stroke="#1c1c1c" stroke-width="0.3" >-50</text>
<line x1="356.20" y1="945.30" x2="553.10" y2="945.30" stroke="#444" stroke-width="1.2" />
<line x1="389.10" y1="945.20" x2="389.10" y2="951.00" stroke="#3a3a3a" stroke-width="1.1" />
<text x="389.10" y="962.20" font-size="11" text-anchor="middle" fill="#1c1c1c" stroke="#1c1c1c" stroke-width="0.3" >73 db</text>
<line x1="454.30" y1="945.20" x2="454.30" y2="951.00" stroke="#3a3a3a" stroke-width="1.1" />
<text x="454.30" y="962.20" font-size="11" text-anchor="middle" fill="#1c1c1c" stroke="#1c1c1c" stroke-width="0.3" >77 db</text>
<line x1="519.60" y1="945.20" x2="519.60" y2="951.00" stroke="#3a3a3a" stroke-width="1.1" />
<text x="519.60" y="962.20" font-size="11" text-anchor="middle" fill="#1c1c1c" stroke="#1c1c1c" stroke-width="0.3" >81 db</text>
<line x1="357.70" y1="895.70" x2="550.30" y2="895.70" stroke="#333" stroke-width="1.6" stroke-dasharray="1.6 3.17"/>
<text transform="translate(323.10,909.80) rotate(-90)" font-size="12.4" text-anchor="start" fill="#1c1c1c" stroke="#1c1c1c" stroke-width="0.3" textLength="78.1" lengthAdjust="spacingAndGlyphs">Mean PPI (%)</text>
<polyline points="389.10,899.40 454.30,884.30 519.60,875.00" fill="none" stroke="#1b6a4e" stroke-width="1.65"/>
<line x1="389.10" y1="897.50" x2="389.10" y2="901.50" stroke="#2d6b55" stroke-width="1.0" />
<line x1="386.70" y1="897.50" x2="391.50" y2="897.50" stroke="#2d6b55" stroke-width="1.0" />
<line x1="386.70" y1="901.50" x2="391.50" y2="901.50" stroke="#2d6b55" stroke-width="1.0" />
<line x1="454.30" y1="879.00" x2="454.30" y2="889.10" stroke="#2d6b55" stroke-width="1.0" />
<line x1="451.90" y1="879.00" x2="456.70" y2="879.00" stroke="#2d6b55" stroke-width="1.0" />
<line x1="451.90" y1="889.10" x2="456.70" y2="889.10" stroke="#2d6b55" stroke-width="1.0" />
<line x1="519.60" y1="869.80" x2="519.60" y2="879.90" stroke="#2d6b55" stroke-width="1.0" />
<line x1="517.20" y1="869.80" x2="522.00" y2="869.80" stroke="#2d6b55" stroke-width="1.0" />
<line x1="517.20" y1="879.90" x2="522.00" y2="879.90" stroke="#2d6b55" stroke-width="1.0" />
<circle cx="389.10" cy="899.40" r="2.45" fill="#13684a"/>
<circle cx="454.30" cy="884.30" r="2.45" fill="#13684a"/>
<circle cx="519.60" cy="875.00" r="2.45" fill="#13684a"/>
<polyline points="389.10,895.50 454.30,877.50 519.60,865.60" fill="none" stroke="#404040" stroke-width="1.75" stroke-dasharray="5 2.6"/>
<circle cx="389.10" cy="895.50" r="2.3" fill="#eee" stroke="#222" stroke-width="1.5"/>
<circle cx="454.30" cy="877.50" r="2.3" fill="#eee" stroke="#222" stroke-width="1.5"/>
<circle cx="519.60" cy="865.60" r="2.3" fill="#eee" stroke="#222" stroke-width="1.5"/>
<line x1="389.10" y1="893.00" x2="389.10" y2="898.00" stroke="#555" stroke-width="1.0" />
<line x1="386.70" y1="893.00" x2="391.50" y2="893.00" stroke="#555" stroke-width="1.0" />
<line x1="386.70" y1="898.00" x2="391.50" y2="898.00" stroke="#555" stroke-width="1.0" />
<line x1="454.30" y1="874.40" x2="454.30" y2="880.50" stroke="#555" stroke-width="1.0" />
<line x1="451.90" y1="874.40" x2="456.70" y2="874.40" stroke="#555" stroke-width="1.0" />
<line x1="451.90" y1="880.50" x2="456.70" y2="880.50" stroke="#555" stroke-width="1.0" />
<line x1="519.60" y1="859.50" x2="519.60" y2="871.50" stroke="#555" stroke-width="1.0" />
<line x1="517.20" y1="859.50" x2="522.00" y2="859.50" stroke="#555" stroke-width="1.0" />
<line x1="517.20" y1="871.50" x2="522.00" y2="871.50" stroke="#555" stroke-width="1.0" />
<line x1="490.90" y1="793.50" x2="494.30" y2="793.50" stroke="#333" stroke-width="1.8" />
<line x1="505.20" y1="793.50" x2="507.20" y2="793.50" stroke="#333" stroke-width="1.8" />
<circle cx="499.00" cy="793.40" r="2.2" fill="#999" stroke="#222" stroke-width="1.5"/>
<line x1="490.90" y1="820.10" x2="506.80" y2="820.10" stroke="#1d5f47" stroke-width="1.6" />
<circle cx="499.00" cy="820.10" r="2.7" fill="#13684a"/>
<text x="518.30" y="798.90" font-size="14.6" text-anchor="start" fill="#1c1c1c" stroke="#1c1c1c" stroke-width="0.3" >Saline</text>
<text x="518.30" y="824.50" font-size="14.6" text-anchor="start" fill="#1c1c1c" stroke="#1c1c1c" stroke-width="0.3" >CRFR1a</text>
<line x1="81.40" y1="1012.00" x2="81.40" y2="1190.00" stroke="#555" stroke-width="1.15" />
<line x1="74.40" y1="1012.00" x2="81.40" y2="1012.00" stroke="#555" stroke-width="1.15" />
<text x="72.00" y="1015.85" font-size="13" text-anchor="end" fill="#1c1c1c" stroke="#1c1c1c" stroke-width="0.3" >60</text>
<line x1="74.40" y1="1056.50" x2="81.40" y2="1056.50" stroke="#555" stroke-width="1.15" />
<text x="72.00" y="1060.35" font-size="13" text-anchor="end" fill="#1c1c1c" stroke="#1c1c1c" stroke-width="0.3" >40</text>
<line x1="74.40" y1="1101.00" x2="81.40" y2="1101.00" stroke="#555" stroke-width="1.15" />
<text x="72.00" y="1104.85" font-size="13" text-anchor="end" fill="#1c1c1c" stroke="#1c1c1c" stroke-width="0.3" >20</text>
<line x1="74.40" y1="1145.50" x2="81.40" y2="1145.50" stroke="#555" stroke-width="1.15" />
<text x="72.00" y="1149.35" font-size="13" text-anchor="end" fill="#1c1c1c" stroke="#1c1c1c" stroke-width="0.3" >0</text>
<line x1="74.40" y1="1190.00" x2="81.40" y2="1190.00" stroke="#555" stroke-width="1.15" />
<text x="72.00" y="1193.85" font-size="13" text-anchor="end" fill="#1c1c1c" stroke="#1c1c1c" stroke-width="0.3" >-20</text>
<line x1="74.40" y1="1190.10" x2="221.00" y2="1190.10" stroke="#444" stroke-width="1.2" />
<line x1="81.40" y1="1145.80" x2="221.00" y2="1145.80" stroke="#444" stroke-width="1.2" />
<text transform="translate(45.30,1148.10) rotate(-90)" font-size="15.3" text-anchor="start" fill="#1c1c1c" stroke="#1c1c1c" stroke-width="0.3" textLength="93.1" lengthAdjust="spacingAndGlyphs">Mean PPI (%)</text>
<rect x="101.50" y="1103.30" width="39.70" height="42.40" fill="#f4f2e1" stroke="#3a3a3a" stroke-width="1.0"/>
<rect x="161.20" y="1128.20" width="39.10" height="17.50" fill="#096943" stroke="#1a2a22" stroke-width="1.0"/>
<line x1="180.75" y1="1125.50" x2="180.75" y2="1128.20" stroke="#444" stroke-width="1.0" />
<line x1="171.05" y1="1125.50" x2="190.45" y2="1125.50" stroke="#444" stroke-width="1.0" />
<line x1="180.75" y1="1128.20" x2="180.75" y2="1131.00" stroke="#3f7560" stroke-width="1.0" />
<line x1="171.05" y1="1131.00" x2="190.45" y2="1131.00" stroke="#3f7560" stroke-width="1.0" />
<circle cx="121.20" cy="1072.10" r="2.55" fill="#fff" stroke="#222" stroke-width="1.65"/>
<circle cx="115.40" cy="1078.70" r="2.55" fill="#fff" stroke="#222" stroke-width="1.65"/>
<circle cx="127.00" cy="1080.80" r="2.55" fill="#fff" stroke="#222" stroke-width="1.65"/>
<circle cx="121.20" cy="1103.30" r="2.55" fill="#fff" stroke="#222" stroke-width="1.65"/>
<circle cx="127.00" cy="1115.10" r="2.55" fill="#fff" stroke="#222" stroke-width="1.65"/>
<circle cx="115.40" cy="1119.30" r="2.55" fill="#fff" stroke="#222" stroke-width="1.65"/>
<circle cx="127.00" cy="1126.60" r="2.55" fill="#fff" stroke="#222" stroke-width="1.65"/>
<circle cx="115.40" cy="1130.70" r="2.55" fill="#fff" stroke="#222" stroke-width="1.65"/>
<line x1="121.10" y1="1095.40" x2="121.10" y2="1111.00" stroke="#444" stroke-width="1.0" />
<line x1="111.40" y1="1095.40" x2="130.80" y2="1095.40" stroke="#444" stroke-width="1.0" />
<line x1="111.40" y1="1111.00" x2="130.80" y2="1111.00" stroke="#444" stroke-width="1.0" />
<circle cx="180.90" cy="1115.10" r="2.95" fill="#000"/>
<circle cx="175.30" cy="1121.80" r="2.95" fill="#000"/>
<circle cx="186.10" cy="1121.80" r="2.95" fill="#000"/>
<circle cx="170.10" cy="1128.60" r="2.95" fill="#000"/>
<circle cx="191.30" cy="1128.60" r="2.95" fill="#000"/>
<circle cx="180.90" cy="1132.80" r="2.95" fill="#000"/>
<circle cx="170.10" cy="1138.00" r="2.95" fill="#000"/>
<circle cx="191.30" cy="1138.00" r="2.95" fill="#000"/>
<text x="182.30" y="1096.20" font-size="16.5" text-anchor="middle" fill="#1c1c1c" stroke="#1c1c1c" stroke-width="0.6" letter-spacing="1.6">**</text>
<line x1="356.20" y1="1012.00" x2="356.20" y2="1190.00" stroke="#555" stroke-width="1.15" />
<line x1="349.20" y1="1012.00" x2="356.20" y2="1012.00" stroke="#555" stroke-width="1.15" />
<text x="346.80" y="1015.85" font-size="13" text-anchor="end" fill="#1c1c1c" stroke="#1c1c1c" stroke-width="0.3" >60</text>
<line x1="349.20" y1="1056.50" x2="356.20" y2="1056.50" stroke="#555" stroke-width="1.15" />
<text x="346.80" y="1060.35" font-size="13" text-anchor="end" fill="#1c1c1c" stroke="#1c1c1c" stroke-width="0.3" >40</text>
<line x1="349.20" y1="1101.00" x2="356.20" y2="1101.00" stroke="#555" stroke-width="1.15" />
<text x="346.80" y="1104.85" font-size="13" text-anchor="end" fill="#1c1c1c" stroke="#1c1c1c" stroke-width="0.3" >20</text>
<line x1="349.20" y1="1145.50" x2="356.20" y2="1145.50" stroke="#555" stroke-width="1.15" />
<text x="346.80" y="1149.35" font-size="13" text-anchor="end" fill="#1c1c1c" stroke="#1c1c1c" stroke-width="0.3" >0</text>
<line x1="349.20" y1="1190.00" x2="356.20" y2="1190.00" stroke="#555" stroke-width="1.15" />
<text x="346.80" y="1193.85" font-size="13" text-anchor="end" fill="#1c1c1c" stroke="#1c1c1c" stroke-width="0.3" >-20</text>
<line x1="349.20" y1="1190.10" x2="495.80" y2="1190.10" stroke="#444" stroke-width="1.2" />
<line x1="356.20" y1="1145.80" x2="495.80" y2="1145.80" stroke="#444" stroke-width="1.2" />
<text transform="translate(320.10,1148.10) rotate(-90)" font-size="15.3" text-anchor="start" fill="#1c1c1c" stroke="#1c1c1c" stroke-width="0.3" textLength="93.1" lengthAdjust="spacingAndGlyphs">Mean PPI (%)</text>
<rect x="376.30" y="1111.40" width="39.70" height="34.30" fill="#f4f2e1" stroke="#3a3a3a" stroke-width="1.0"/>
<rect x="435.50" y="1125.50" width="39.30" height="20.20" fill="#096943" stroke="#1a2a22" stroke-width="1.0"/>
<line x1="455.55" y1="1119.30" x2="455.55" y2="1125.50" stroke="#444" stroke-width="1.0" />
<line x1="445.85" y1="1119.30" x2="465.25" y2="1119.30" stroke="#444" stroke-width="1.0" />
<line x1="455.55" y1="1125.50" x2="455.55" y2="1131.80" stroke="#3f7560" stroke-width="1.0" />
<line x1="445.85" y1="1131.80" x2="465.25" y2="1131.80" stroke="#3f7560" stroke-width="1.0" />
<circle cx="395.80" cy="1075.60" r="2.55" fill="#fff" stroke="#222" stroke-width="1.65"/>
<circle cx="390.40" cy="1095.40" r="2.55" fill="#fff" stroke="#222" stroke-width="1.65"/>
<circle cx="401.40" cy="1098.50" r="2.55" fill="#fff" stroke="#222" stroke-width="1.65"/>
<circle cx="390.40" cy="1108.90" r="2.55" fill="#fff" stroke="#222" stroke-width="1.65"/>
<circle cx="401.40" cy="1112.40" r="2.55" fill="#fff" stroke="#222" stroke-width="1.65"/>
<circle cx="395.80" cy="1120.70" r="2.55" fill="#fff" stroke="#222" stroke-width="1.65"/>
<circle cx="390.40" cy="1138.60" r="2.55" fill="#fff" stroke="#222" stroke-width="1.65"/>
<circle cx="401.40" cy="1138.00" r="2.55" fill="#fff" stroke="#222" stroke-width="1.65"/>
<line x1="395.90" y1="1103.30" x2="395.90" y2="1118.70" stroke="#444" stroke-width="1.0" />
<line x1="386.20" y1="1103.30" x2="405.60" y2="1103.30" stroke="#444" stroke-width="1.0" />
<line x1="386.20" y1="1118.70" x2="405.60" y2="1118.70" stroke="#444" stroke-width="1.0" />
<circle cx="455.10" cy="1092.90" r="2.95" fill="#000"/>
<circle cx="455.10" cy="1102.60" r="2.95" fill="#000"/>
<circle cx="455.10" cy="1123.00" r="2.95" fill="#000"/>
<circle cx="438.20" cy="1132.20" r="2.95" fill="#000"/>
<circle cx="449.70" cy="1136.50" r="2.95" fill="#000"/>
<circle cx="460.70" cy="1138.00" r="2.95" fill="#000"/>
<circle cx="472.10" cy="1138.00" r="2.95" fill="#000"/>
<circle cx="438.20" cy="1141.70" r="2.95" fill="#000"/>
</svg>
</body></html>
